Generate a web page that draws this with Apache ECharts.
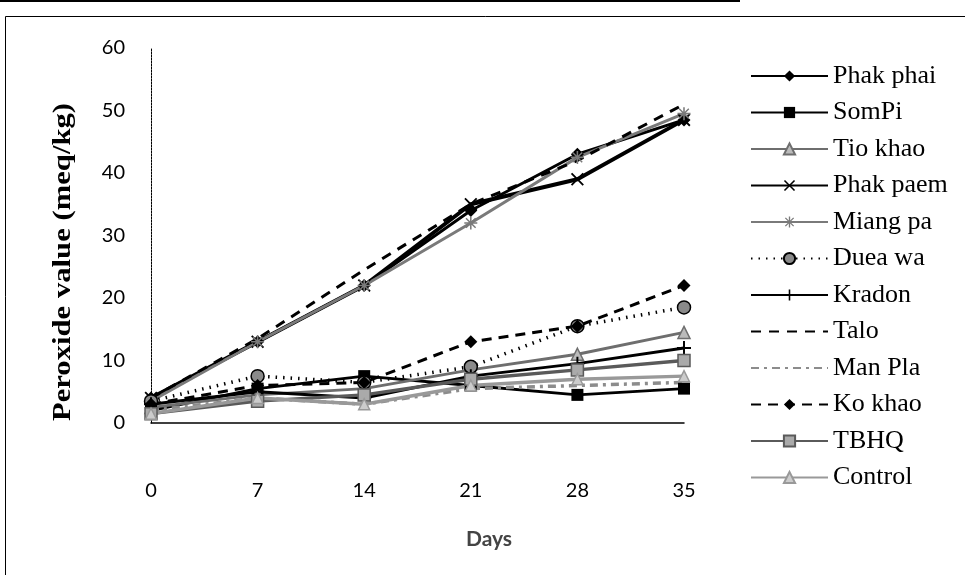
<!DOCTYPE html>
<html><head><meta charset="utf-8">
<script src="https://cdn.jsdelivr.net/npm/echarts@6/dist/echarts.min.js"></script>
<style>html,body{margin:0;padding:0;background:#fff}#c{width:965px;height:575px}</style>
</head><body><div id="c"></div>
<script>
const days = ['0','7','14','21','28','35'];
const yTicks = [0,10,20,30,40,50,60];
const phakPhai = [4, 13, 22, 34, 43, 48.5];
const somPi    = [2, 5.5, 7.5, 6, 4.5, 5.5];
const tioKhao  = [2.5, 4.5, 5.5, 8.5, 11, 14.5];
const phakPaem = [4, 13, 22, 35, 39, 48.5];
const miangPa  = [3.5, 13, 22, 32, 42.5, 49.5];
const dueaWa   = [3.5, 7.5, 6.5, 9, 15.5, 18.5];
const kradon   = [3, 5, 4, 7.5, 9.5, 12];
const talo     = [4, 13.5, 24.5, 35, 42, 51];
const manPla   = [2, 4, 3, 5.5, 6, 6.5];
const koKhao   = [3, 6, 6.5, 13, 15.5, 22];
const tbhq     = [1.5, 3.5, 4.5, 7, 8.5, 10];
const control  = [1.5, 4, 3, 6, 7, 7.5];

const X = 'path://M0,1L1,0L5,4L9,0L10,1L6,5L10,9L9,10L5,6L1,10L0,9L4,5Z';
const PLUS = 'path://M4.3,0H5.7V4.3H10V5.7H5.7V10H4.3V5.7H0V4.3H4.3Z';
const AST = 'path://M4.4,0H5.6V3.6L8.3,0.9L9.1,1.7L6.4,4.4H10V5.6H6.4L9.1,8.3L8.3,9.1L5.6,6.4V10H4.4V6.4L1.7,9.1L0.9,8.3L3.6,5.6H0V4.4H3.6L0.9,1.7L1.7,0.9L4.4,3.6Z';

function s(name, data, color, width, type, symbol, size, fill) {
  return {
    name, type: 'line', data,
    symbol, symbolSize: size, showSymbol: size > 0,
    lineStyle: { color, width, type },
    itemStyle: { color: fill || color, borderColor: color, borderWidth: fill ? 1.5 : 0 },
    emphasis: { disabled: true }, animation: false, z: 2
  };
}

const series = [
  s('Phak phai', phakPhai, '#000', 3, 'solid', 'diamond', 13),
  s('SomPi', somPi, '#000', 3, 'solid', 'rect', 12),
  s('Tio khao', tioKhao, '#6e6e6e', 3, 'solid', 'triangle', 12, '#bbb'),
  s('Phak paem', phakPaem, '#000', 4, 'solid', X, 13),
  s('Miang pa', miangPa, '#7a7a7a', 3, 'solid', AST, 13),
  s('Duea wa', dueaWa, '#000', 3.5, [1.5, 6], 'circle', 13, '#8a8a8a'),
  s('Kradon', kradon, '#000', 3, 'solid', PLUS, 14),
  s('Talo', talo, '#000', 3, [10, 8], 'circle', 0),
  s('Man Pla', manPla, '#8c8c8c', 3.5, [8, 5, 3, 5], 'circle', 0),
  s('Ko khao', koKhao, '#000', 3, [10, 7], 'diamond', 13),
  s('TBHQ', tbhq, '#5a5a5a', 3.5, 'solid', 'rect', 12, '#aaa'),
  s('Control', control, '#999', 3.5, 'solid', 'triangle', 11, '#ccc')
];

const legendData = series.map(x => (x.symbolSize === 0
  ? { name: x.name, itemStyle: { opacity: 0 } }
  : { name: x.name }));

const chart = echarts.init(document.getElementById('c'), null, { renderer: 'canvas' });
chart.setOption({
  backgroundColor: '#fff',
  animation: false,
  grid: { left: 151, right: 281, top: 48, bottom: 152, containLabel: false },
  xAxis: {
    type: 'category', data: days, boundaryGap: false,
    axisLine: { lineStyle: { color: '#000', width: 1.5 } },
    axisTick: { show: false },
    axisLabel: { margin: 58, fontFamily: 'Lato', fontSize: 20, color: '#000' },
    splitLine: { show: false }
  },
  yAxis: {
    type: 'value', min: yTicks[0], max: yTicks[yTicks.length - 1], interval: 10,
    axisLine: { show: true, lineStyle: { color: '#000', width: 1, type: [2, 1] } },
    axisTick: { show: false },
    axisLabel: { margin: 26, fontFamily: 'Lato', fontSize: 20, color: '#000' },
    splitLine: { show: false }
  },
  title: [
    { text: 'Days', left: 484, top: 524, textAlign: 'center',
      textStyle: { fontFamily: 'Lato', fontWeight: 'bold', fontSize: 21, color: '#444' } }
  ],
  legend: {
    orient: 'vertical', left: 745, top: 58,
    itemWidth: 77, itemHeight: 14, itemGap: 10.5,
    textStyle: { fontFamily: 'Liberation Serif', fontSize: 26, color: '#000', lineHeight: 26 },
    selectedMode: false,
    data: legendData
  },
  graphic: [
    { type: 'rect', shape: { x: 5.5, y: 16.5, width: 1000, height: 600 }, style: { fill: null, stroke: '#000', lineWidth: 1 }, silent: true },
    { type: 'rect', shape: { x: 0, y: 0, width: 740, height: 2 }, style: { fill: '#000' }, silent: true },
    { type: 'text', x: 63, y: 262, rotation: Math.PI / 2, scaleX: 1.18, silent: true,
      style: { text: 'Peroxide value (meq/kg)', font: 'bold 26px "Liberation Serif"', fill: '#000', align: 'center', verticalAlign: 'middle' } }
  ],
  series
});
</script></body></html>
